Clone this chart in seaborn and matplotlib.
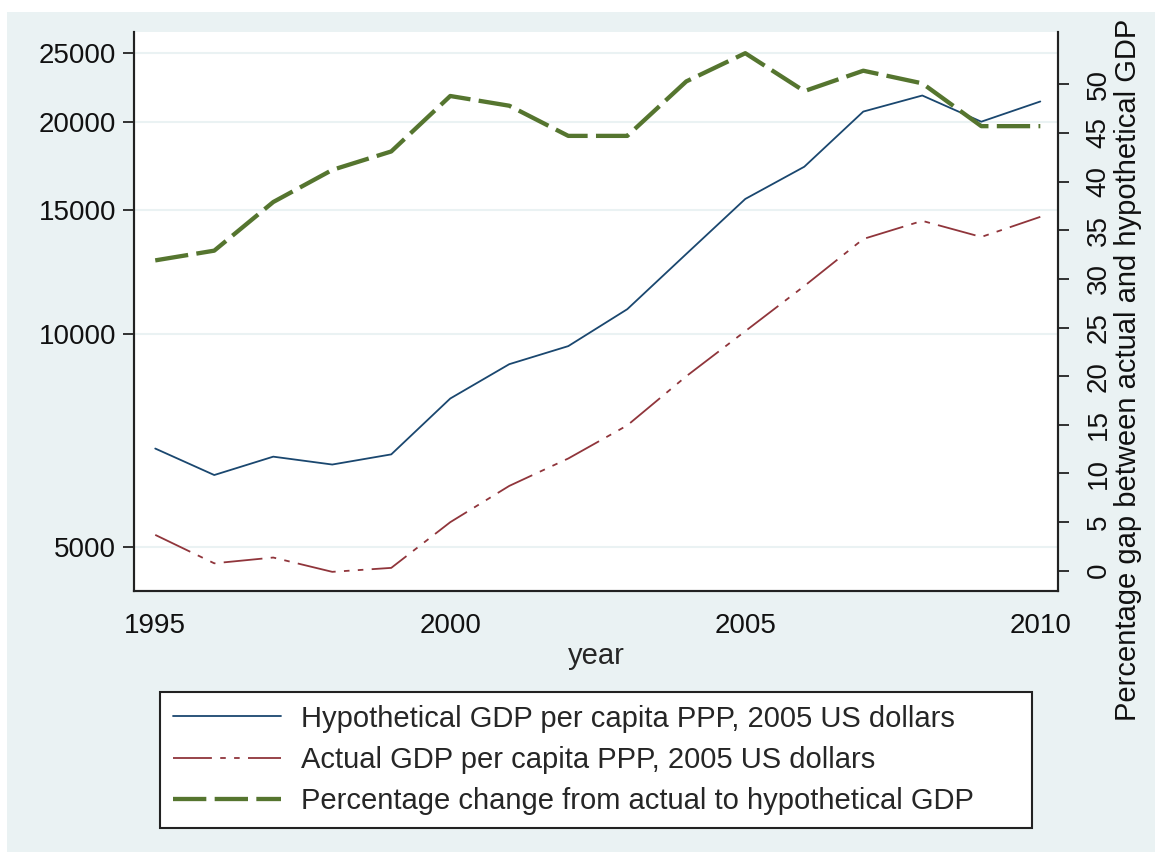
import matplotlib
matplotlib.use("Agg")
import matplotlib.pyplot as plt
from matplotlib.patches import Rectangle
from matplotlib.ticker import FixedLocator, NullLocator
import pandas as pd
import seaborn as sns

# values
years = list(range(1995, 2011))
hypothetical_gdp = [6890, 6320, 6710, 6540, 6760, 8110, 9070, 9620,
                    10850, 12990, 15540, 17260, 20660, 21770, 19990, 21350]
actual_gdp = [5200, 4740, 4830, 4610, 4670, 5420, 6100, 6670,
              7430, 8720, 10100, 11700, 13640, 14470, 13730, 14660]
pct_gap = [31.9, 32.9, 37.9, 41.2, 43.1, 48.8, 47.8, 44.7,
           44.7, 50.3, 53.2, 49.3, 51.4, 50.1, 45.7, 45.7]

left_ticks = [5000, 10000, 15000, 20000, 25000]
right_ticks = [0, 5, 10, 15, 20, 25, 30, 35, 40, 45, 50]
x_ticks = [1995, 2000, 2005, 2010]

lbl_hyp = "Hypothetical GDP per capita PPP, 2005 US dollars"
lbl_act = "Actual GDP per capita PPP, 2005 US dollars"
lbl_pct = "Percentage change from actual to hypothetical GDP"

df = pd.DataFrame({"year": years, "hyp": hypothetical_gdp,
                   "act": actual_gdp, "pct": pct_gap})

sns.set_theme(style="white")
plt.rcParams["font.family"] = ["Liberation Sans", "DejaVu Sans"]
plt.rcParams["lines.scale_dashes"] = False

bg = "#eaf2f3"
blue = "#1a476f"
red = "#90353b"
green = "#55752f"

fig = plt.figure(figsize=(11.55, 8.52), dpi=100)
fig.patch.set_facecolor("white")
fig.patches.append(Rectangle((7 / 1155, 0), 1, 1 - 12 / 852, transform=fig.transFigure,
                             facecolor=bg, edgecolor="none", zorder=-10))

ax = fig.add_axes([134 / 1155, 1 - 591 / 852, 924 / 1155, 559 / 852])
ax.set_facecolor("white")

sns.lineplot(data=df, x="year", y="hyp", ax=ax, color=blue, linewidth=1.3,
             label=lbl_hyp, legend=False)
sns.lineplot(data=df, x="year", y="act", ax=ax, color=red, linewidth=1.3,
             label=lbl_act, legend=False)
ax.lines[-1].set_dashes([28, 6, 4, 6, 4, 6])

ax.set_yscale("log")
ax.set_ylim(4331, 26776)
ax.set_xlim(1994.64, 2010.3)
ax.yaxis.set_major_locator(FixedLocator(left_ticks))
ax.yaxis.set_minor_locator(NullLocator())
ax.set_yticklabels([str(t) for t in left_ticks])
ax.set_xticks(x_ticks)
ax.set_xticklabels([str(t) for t in x_ticks])
ax.grid(axis="y", color=bg, linewidth=1.5)
ax.set_axisbelow(True)

ax2 = ax.twinx()
sns.lineplot(data=df, x="year", y="pct", ax=ax2, color=green, linewidth=3.1,
             label=lbl_pct, legend=False)
ax2.lines[-1].set_dashes([24, 6])
ax2.set_ylim(-2.09, 55.38)
ax2.set_yticks(right_ticks)
ax2.set_yticklabels([str(t) for t in right_ticks], rotation=90, va="center")
ax2.set_ylabel("Percentage gap between actual and hypothetical GDP", fontsize=21,
               color="#111111")
ax2.yaxis.set_label_coords((1114 - 134) / 924, (591 - 370) / 559)

ax.set_xlabel("year", fontsize=21, labelpad=2)
ax.set_ylabel("")

for a in (ax, ax2):
    a.spines["top"].set_visible(False)
    for s in ("left", "right", "bottom"):
        a.spines[s].set_color("#222222")
        a.spines[s].set_linewidth(1.5)
    a.tick_params(axis="both", which="major", direction="out", length=8,
                  width=1.3, color="#222222", labelsize=20, labelcolor="#111111",
                  pad=5)
ax.tick_params(axis="x", pad=8)
ax2.tick_params(axis="y", pad=12)

handles = ax.lines[:2] + ax2.lines[:1]
leg = fig.legend(handles, [lbl_hyp, lbl_act, lbl_pct], loc="lower left",
                 bbox_to_anchor=(160 / 1155, 1 - 828 / 852, 872 / 1155, 139 / 852),
                 mode="expand", fontsize=21, frameon=True, fancybox=False,
                 framealpha=1, edgecolor="#222222", handlelength=3.7,
                 handletextpad=0.7, labelspacing=0.45, borderpad=0.45,
                 borderaxespad=0)
leg.get_frame().set_linewidth(1.5)
leg.set_zorder(20)

fig.savefig("out.png", dpi=100, facecolor=fig.get_facecolor())
